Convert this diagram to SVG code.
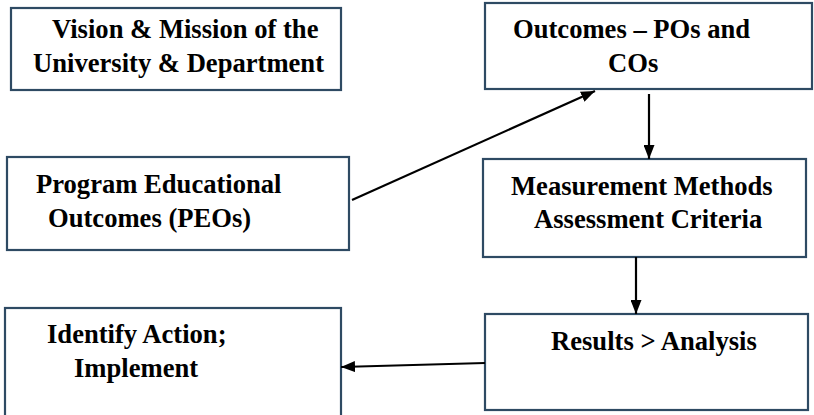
<svg xmlns="http://www.w3.org/2000/svg" width="814" height="415" viewBox="0 0 814 415">
<style>
.box{fill:#fff;stroke:#2e4a63;stroke-width:2.2}
.t{font-family:"Liberation Serif","Times New Roman",serif;font-weight:bold;font-size:26.6px;fill:#000}
.c{stroke:#000;stroke-width:2.2;fill:none}
</style>
<defs>
<marker id="ah" viewBox="0 0 14 11" refX="14" refY="5.5" markerWidth="14" markerHeight="11" markerUnits="userSpaceOnUse" orient="auto">
<path d="M0,0 L14,5.5 L0,11 Z" fill="#000"/>
</marker>
</defs>
<rect width="814" height="415" fill="#fff"/>
<g id="vision">
<rect class="box" x="11" y="8" width="330" height="82"/>
<text class="t" x="52" y="38">Vision &amp; Mission of the</text>
<text class="t" x="33" y="72">University &amp; Department</text>
</g>
<g id="outcomes">
<rect class="box" x="485" y="3" width="327" height="86"/>
<text class="t" x="513" y="38">Outcomes – POs and</text>
<text class="t" x="608" y="72">COs</text>
</g>
<g id="peo">
<rect class="box" x="7" y="157" width="342" height="93"/>
<text class="t" x="36" y="193">Program Educational</text>
<text class="t" x="48" y="227">Outcomes (PEOs)</text>
</g>
<g id="measurement">
<rect class="box" x="483" y="159" width="323" height="98"/>
<text class="t" x="511" y="195">Measurement Methods</text>
<text class="t" x="534" y="228">Assessment Criteria</text>
</g>
<g id="results">
<rect class="box" x="485" y="314" width="323" height="96"/>
<text class="t" x="551" y="350">Results &gt; Analysis</text>
</g>
<g id="identify">
<rect class="box" x="5" y="308" width="336" height="110"/>
<text class="t" x="47" y="343">Identify Action;</text>
<text class="t" x="74" y="377">Implement</text>
</g>
<g id="connectors">
<line class="c" x1="352" y1="200" x2="595" y2="91" marker-end="url(#ah)"/>
<line class="c" x1="649" y1="94" x2="649" y2="159" marker-end="url(#ah)"/>
<line class="c" x1="636" y1="257" x2="636" y2="314" marker-end="url(#ah)"/>
<line class="c" x1="485" y1="363" x2="341" y2="367" marker-end="url(#ah)"/>
</g>
</svg>
